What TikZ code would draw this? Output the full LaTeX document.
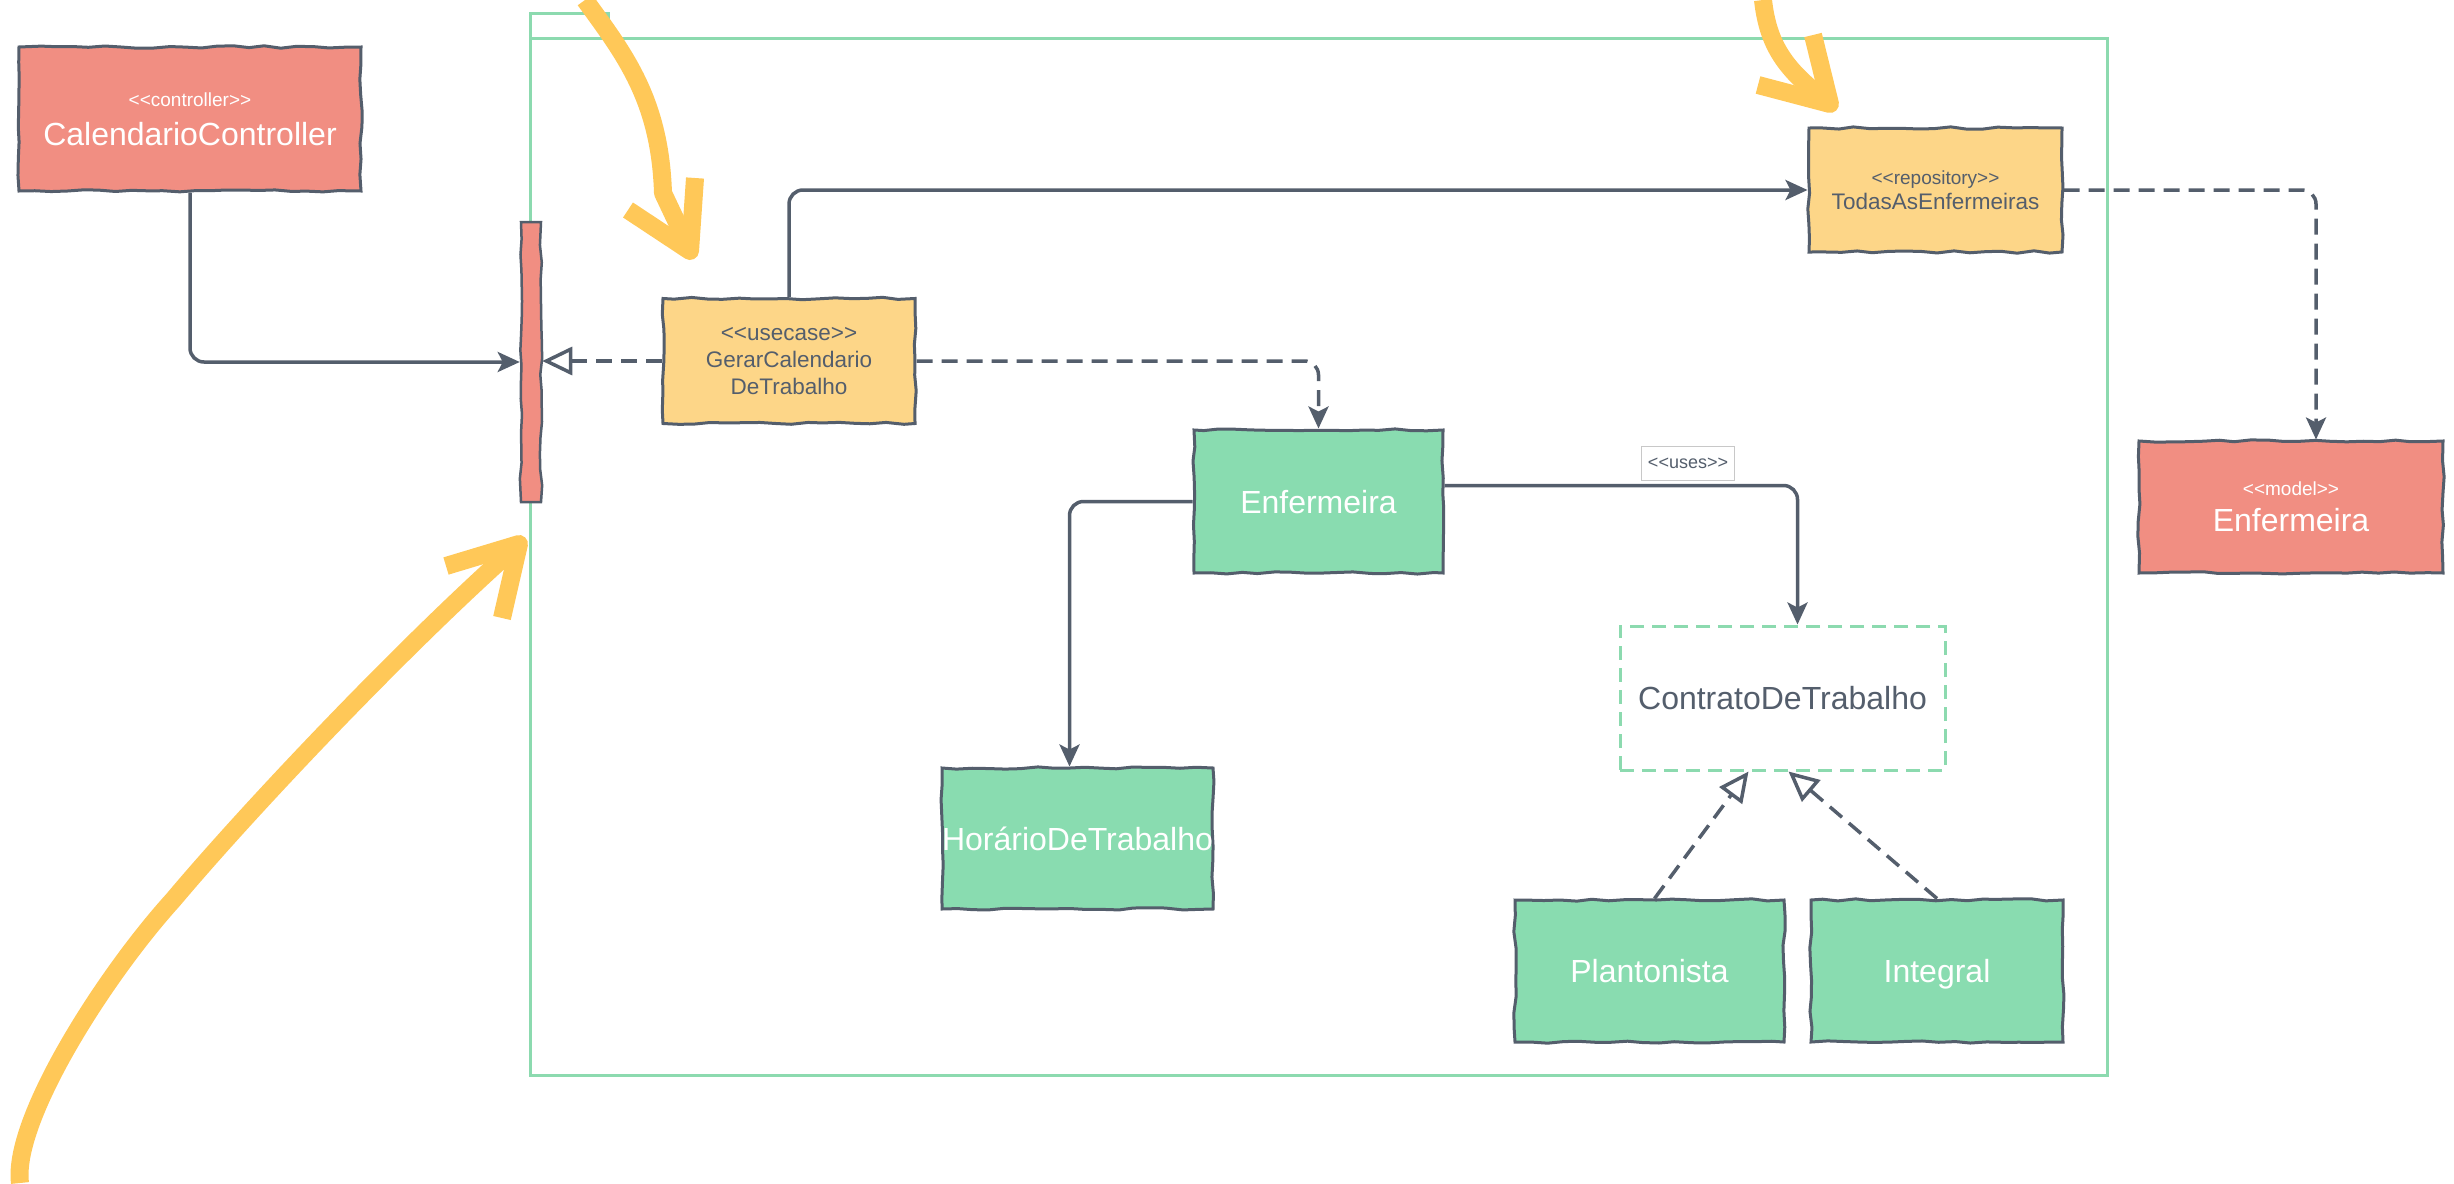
\documentclass[tikz,border=0pt]{standalone}
\usepackage{fontspec}
\setmainfont{Liberation Sans}
\usetikzlibrary{arrows.meta,decorations.pathmorphing}

\definecolor{ink}{RGB}{84,94,108}
\definecolor{salmon}{RGB}{241,142,130}
\definecolor{sand}{RGB}{253,214,136}
\definecolor{mint}{RGB}{137,220,176}
\definecolor{pkggreen}{RGB}{140,218,175}
\definecolor{marker}{RGB}{255,200,88}
\definecolor{labelgray}{RGB}{200,200,200}

% guillemet-free stereotype brackets
\newcommand\sopen{<\kern0pt<}
\newcommand\sclose{>\kern0pt>}
\newcommand\fsStereo{\fontsize{19}{22}\selectfont}
\newcommand\fsName{\fontsize{32}{38}\selectfont}
\newcommand\fsMed{\fontsize{22.5}{27}\selectfont}

\begin{document}
\pgfmathsetseed{7}
\begin{tikzpicture}[x=1pt,y=-1pt,
  box/.style={rectangle, draw=ink, line width=3pt, inner sep=0pt, align=center,
    text depth=0pt,
    decorate, decoration={random steps,segment length=16pt,amplitude=1.2pt}},
  redbox/.style={box, fill=salmon, text=white},
  sandbox/.style={box, fill=sand, text=ink},
  mintbox/.style={box, fill=mint, text=white},
  conn/.style={draw=ink, line width=3.5pt, rounded corners=14pt},
  dashedconn/.style={conn, dash pattern=on 16pt off 9pt},
  filledtip/.style={-{Stealth[length=22pt,width=20pt,inset=5pt]}},
  opentip/.style={-{Triangle[open,length=30pt,width=28pt]}},
  pkgline/.style={draw=pkggreen, line width=3pt},
  markerline/.style={draw=marker, line width=18pt, line join=round, line cap=butt},
]
\useasboundingbox (0,0) rectangle (2454,1183);

% package outline with its tab
\draw[pkgline] (530,38) rectangle (2107,1075);
\draw[pkgline] (530,38) -- (530,13) -- (608,13) -- (608,20);

% classes
\node[redbox, font=\fsName, minimum width=342pt, minimum height=144pt] (ctrl) at (190,119)
  {{\fsStereo\sopen controller\sclose}\\[1pt]CalendarioController};
\node[box, fill=salmon, line width=2.5pt, minimum width=20pt, minimum height=280pt] (bar) at (531,362) {};
\node[sandbox, font=\fsMed, minimum width=252pt, minimum height=125pt] (gerar) at (789,361)
  {\sopen usecase\sclose\\GerarCalendario\\DeTrabalho};
\node[sandbox, font=\fsMed, minimum width=253pt, minimum height=124pt] (todas) at (1935.5,190)
  {{\fsStereo\sopen repository\sclose}\\[-2pt]TodasAsEnfermeiras};
\node[redbox, font=\fsName, minimum width=304pt, minimum height=132pt] (model) at (2291,507)
  {{\fsStereo\sopen model\sclose}\\[-2pt]Enfermeira};
\node[mintbox, font=\fsName, minimum width=249pt, minimum height=143pt] (enf) at (1318.5,501.5)
  {Enfermeira};
\node[mintbox, font=\fsName, minimum width=271pt, minimum height=141pt] (hor) at (1077.5,838.5)
  {Hor\'arioDeTrabalho};
\node[rectangle, draw=pkggreen, line width=3pt, dash pattern=on 14pt off 8pt,
  fill=white, text=ink, font=\fsName, text depth=0pt,
  minimum width=325pt, minimum height=144pt] (contr) at (1782.5,698)
  {ContratoDeTrabalho};
\node[mintbox, font=\fsName, minimum width=269pt, minimum height=142pt] (plant) at (1649.5,971)
  {Plantonista};
\node[mintbox, font=\fsName, minimum width=252pt, minimum height=142pt] (integ) at (1937,971)
  {Integral};

% connectors
\draw[conn, filledtip] (ctrl.south) |- (bar.west);
\draw[dashedconn, opentip] (gerar.west) -- (gerar.west -| bar.east);
\draw[conn, filledtip] (gerar.north) |- (todas.west);
\draw[dashedconn, filledtip] (gerar.east) -| (enf.north);
\draw[dashedconn, filledtip] (todas.east) -| ([xshift=25pt]model.north);
\draw[conn, filledtip] (enf.west) -| ([xshift=-8pt]hor.north);
\draw[conn, filledtip] ([yshift=16pt]enf.east) -| ([xshift=15pt]contr.north);
\node[draw=labelgray, line width=1pt, fill=white, text=ink, inner sep=1pt,
  minimum width=93pt, minimum height=34pt, text depth=0pt] (uses) at (1688,463)
  {\fontsize{18}{20}\selectfont\sopen uses\sclose};
\draw[dashedconn, opentip] ([xshift=5pt]plant.north) -- ([xshift=-34pt]contr.south);
\draw[dashedconn, opentip] (integ.north) -- ([xshift=6pt]contr.south);

% hand-drawn highlight arrows
\draw[markerline] (585,0) .. controls (625,55) and (660,100) .. (663,193) -- (690,250);
\draw[markerline] (628,210) -- (690,251) -- (695,178);

\draw[markerline] (1763,0) .. controls (1768,45) and (1785,70) .. (1828,102);
\draw[markerline] (1758,85) -- (1830,104) -- (1813,35);

\draw[markerline] (20,1183) .. controls (12,1120) and (105,975) .. (173,900)
  .. controls (252,806) and (409,641) .. (519,544);
\draw[markerline] (446,566) -- (519,544) -- (502,618);
\end{tikzpicture}
\end{document}
